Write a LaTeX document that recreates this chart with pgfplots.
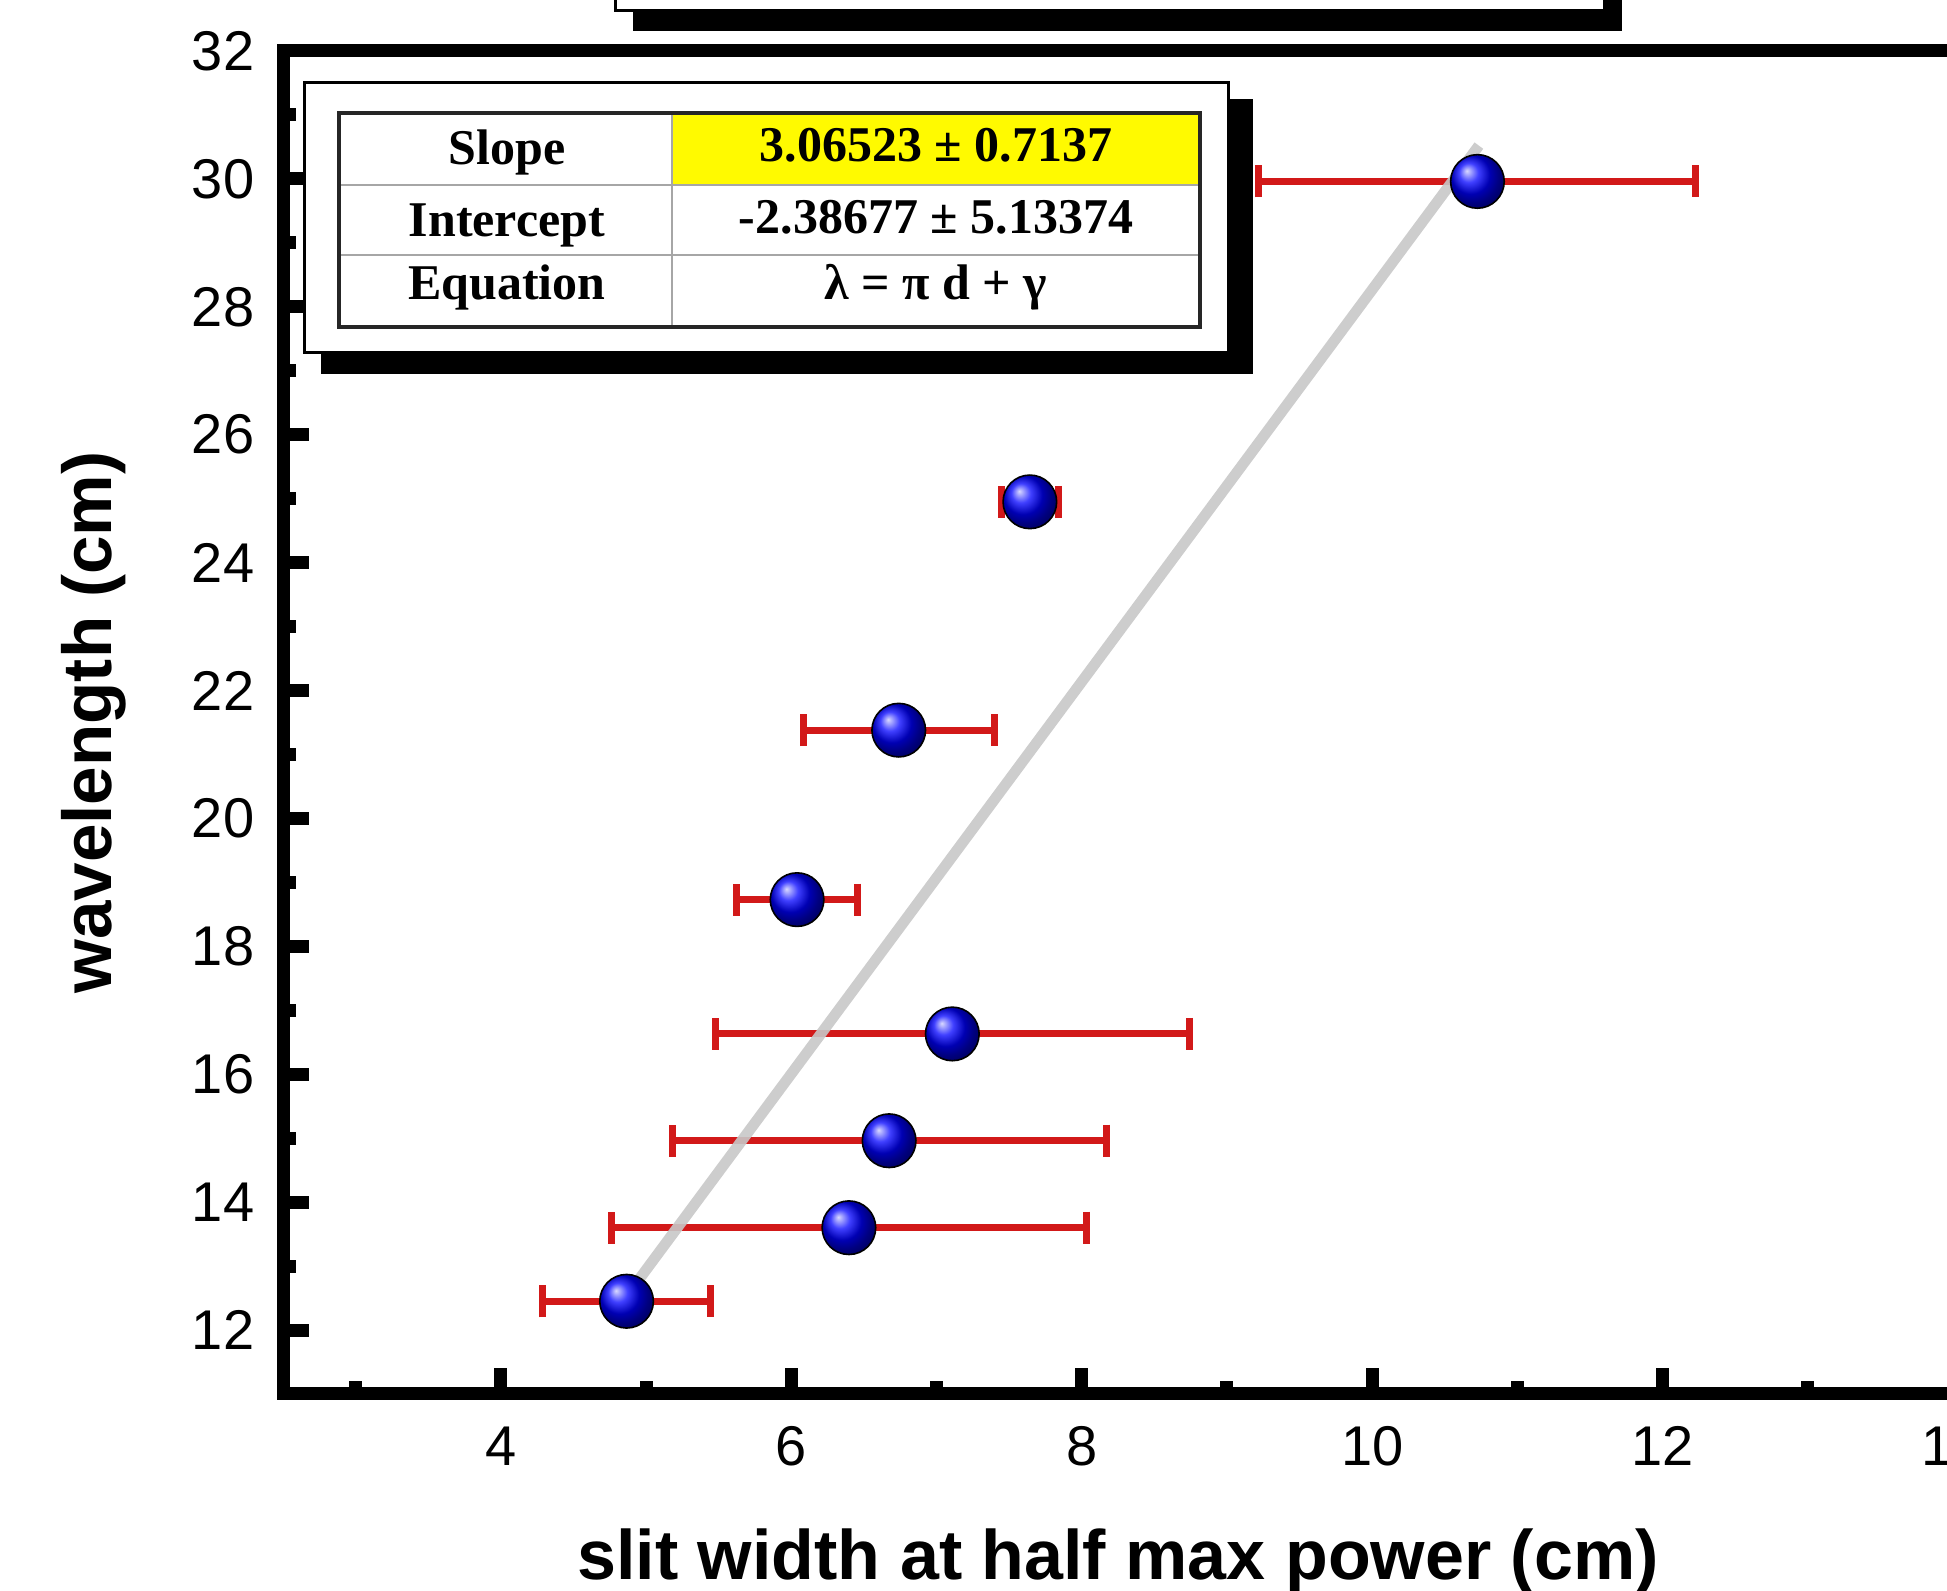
\documentclass[border=0pt]{standalone}
\usepackage{fontspec}
\setmainfont{Liberation Sans}
\newfontfamily\tabfont{Liberation Serif}
\usepackage{pgfplots}
\usepackage{pgfplotstable}
\pgfplotsset{compat=1.18}
\definecolor{errred}{RGB}{210,25,25}
\definecolor{fitgray}{RGB}{200,200,200}
\definecolor{celly}{RGB}{255,250,0}

\pgfplotstableread{
x      y      ex
4.866  12.45  0.577
6.397  13.60  1.634
6.674  14.96  1.494
7.109  16.63  1.630
6.040  18.73  0.418
6.740  21.38  0.657
7.643  24.95  0.195
10.725 29.96  1.505
}\datatable

\begin{document}
\begin{tikzpicture}
\useasboundingbox (0,0) rectangle (486.75pt,397.75pt);
\clip (0,0) rectangle (486.75pt,397.75pt);
\begin{axis}[
  at={(70.75pt,49.25pt)}, anchor=south west,
  scale only axis, width=417.5pt, height=335.75pt,
  xmin=2.5, xmax=14, ymin=11, ymax=32,
  xtick={4,6,...,14}, ytick={12,14,...,32},
  minor xtick={3,5,...,13}, minor ytick={13,15,...,31},
  xtick pos=bottom, ytick pos=left,
  tick align=inside,
  major tick length=6.5pt, minor tick length=3.25pt,
  tick style={black, line width=3.25pt},
  axis line style={line width=3.25pt, black},
  ticklabel style={font=\fontsize{14}{16}\selectfont, inner sep=0pt},
  /pgf/number format/assume math mode=true,
  xticklabel style={anchor=north, yshift=-8pt},
  yticklabel style={anchor=east, xshift=-7pt},
  xlabel={slit width at half max power (cm)},
  ylabel={wavelength (cm)},
  xlabel style={font=\fontsize{17.5}{20}\selectfont\bfseries, at={(axis description cs:0.5,-0.1378)}, anchor=base},
  ylabel style={font=\fontsize{17.3}{20}\selectfont\bfseries, at={(axis description cs:-0.1024,0.5)}, anchor=base},
]
\addplot[only marks, mark=ball, mark size=6.7pt, mark options={ball color=blue},
  error bars/.cd, x dir=both, x explicit,
  error bar style={line width=1.75pt, errred},
  error mark options={rotate=90, errred, line width=1.75pt, mark size=4pt}]
  table[x=x, y=y, x error=ex] {\datatable};
\addplot[no marks, fitgray, line width=2.7pt, opacity=0.9]
  coordinates {(4.84,12.45) (10.735,30.52)};
\end{axis}
\begin{scope}[yshift=397.75pt, x=0.25pt, y=-0.25pt]
  % title box (cut off at top)
  \fill[black] (633,-40) rectangle (1622,31);
  \filldraw[fill=white, draw=black, line width=0.75pt] (615,-40) rectangle (1604,11);
  % statistics table
  \fill[black] (321,99) rectangle (1253,374);
  \filldraw[fill=white, draw=black, line width=0.75pt] (304,83) rectangle (1228,353);
  \fill[celly] (672,113) rectangle (1200,185);
  \draw[black!35, line width=0.4pt] (339,185) -- (1200,185) (339,255) -- (1200,255) (672,113) -- (672,327);
  \draw[black!85, line width=0.8pt] (339,113) rectangle (1200,327);
  \begin{scope}[every node/.style={anchor=base, inner sep=0pt, font=\tabfont\bfseries\fontsize{12.5}{14}\selectfont}]
    \node at (507,165) {Slope};
    \node at (507,237) {Intercept};
    \node at (507,300) {Equation};
    \node at (936,162) {3.06523 ± 0.7137};
    \node at (936,234) {-2.38677 ± 5.13374};
    \node at (936,300) {λ = π d + γ};
  \end{scope}
\end{scope}
\end{tikzpicture}
\end{document}
